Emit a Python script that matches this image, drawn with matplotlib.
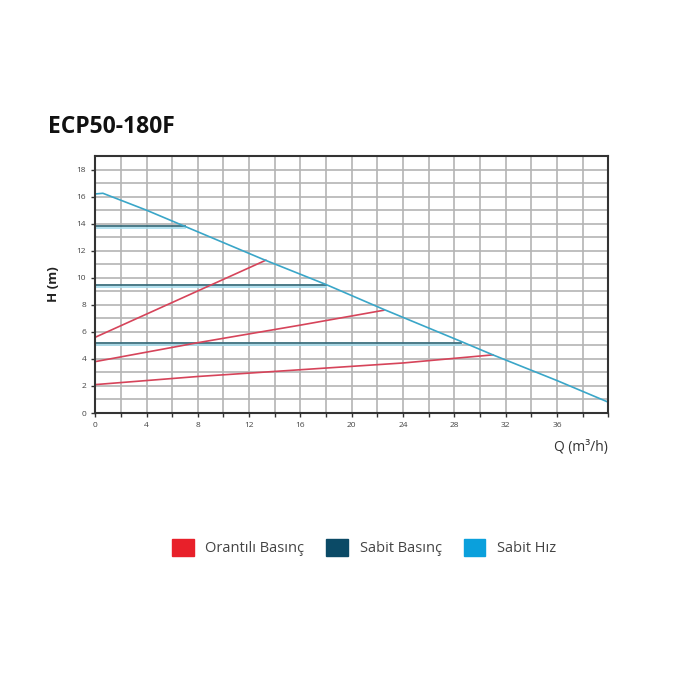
import matplotlib.pyplot as plt
import matplotlib.ticker as mtick
from matplotlib.patches import Patch

plt.rcParams['font.family'] = ['Open Sans', 'DejaVu Sans']

# Sabit Hız (max curve)
hiz_q = [0, 0.6, 4, 8, 13, 18, 22.4, 28.5, 31, 36, 40]
hiz_h = [16.2, 16.25, 15.0, 13.4, 11.4, 9.5, 7.7, 5.3, 4.3, 2.4, 0.8]

# Sabit Basınç (constant pressure)
sabit_h = [13.8, 9.5, 5.2]
sabit_qmax = [7.0, 18.0, 28.5]

# Orantılı Basınç (proportional pressure)
oran_q = [[0, 13.3], [0, 8, 16, 22.5], [0, 8, 16, 24, 31]]
oran_h = [[5.6, 11.3], [3.8, 5.2, 6.5, 7.6], [2.1, 2.7, 3.2, 3.7, 4.3]]

x_ticks = [0, 4, 8, 12, 16, 20, 24, 28, 32, 36]
y_ticks = [0, 2, 4, 6, 8, 10, 12, 14, 16, 18]

kirmizi = "#e8202a"
koyu = "#0b4a66"
mavi = "#0aa0dc"

fig = plt.figure(figsize=(7, 7), dpi=100)
ax = fig.add_axes([0.136, 0.41, 0.733, 0.367])
ax.set_xlim(0, 40)
ax.set_ylim(0, 19)

ax.xaxis.set_major_locator(mtick.FixedLocator(x_ticks))
ax.xaxis.set_minor_locator(mtick.MultipleLocator(2))
ax.yaxis.set_major_locator(mtick.FixedLocator(y_ticks))
ax.yaxis.set_minor_locator(mtick.MultipleLocator(1))
ax.grid(which="both", color="#b4b4b4", linewidth=1.2)
ax.set_axisbelow(True)
ax.tick_params(which="both", labelsize=6, color="#333333", labelcolor="#444444",
               direction="out", length=3, width=1)
ax.tick_params(axis="y", which="minor", length=0)
for s in ax.spines.values():
    s.set_linewidth(1.5)
    s.set_color("#333333")

for h, qm in zip(sabit_h, sabit_qmax):
    ax.plot([0, qm], [h - 0.15, h - 0.15], color="#a5dcec", linewidth=1.2)
    ax.plot([0, qm], [h, h], color="#3d6f7e", linewidth=1.3)

for q, h in zip(oran_q, oran_h):
    ax.plot(q, h, color="#d6445a", linewidth=1.2)

ax.plot(hiz_q, hiz_h, color="#3aa6c8", linewidth=1.2)

fig.text(0.068, 0.81, "ECP50-180F", fontsize=16.5, fontweight="bold", color="#111111")
ax.set_ylabel("H (m)", fontsize=9.5, fontweight="bold", color="#222222", labelpad=12)
fig.text(0.868, 0.356, "Q (m³/h)", fontsize=10, ha="right", color="#333333")

handles = [Patch(color=kirmizi, label="Orantılı Basınç"),
           Patch(color=koyu, label="Sabit Basınç"),
           Patch(color=mavi, label="Sabit Hız")]
fig.legend(handles=handles, loc="center", bbox_to_anchor=(0.52, 0.218), ncol=3,
           frameon=False, fontsize=10.5, handlelength=1.5, handleheight=1.5,
           columnspacing=1.5, handletextpad=0.8, labelcolor="#444444")

fig.savefig("out.png")
